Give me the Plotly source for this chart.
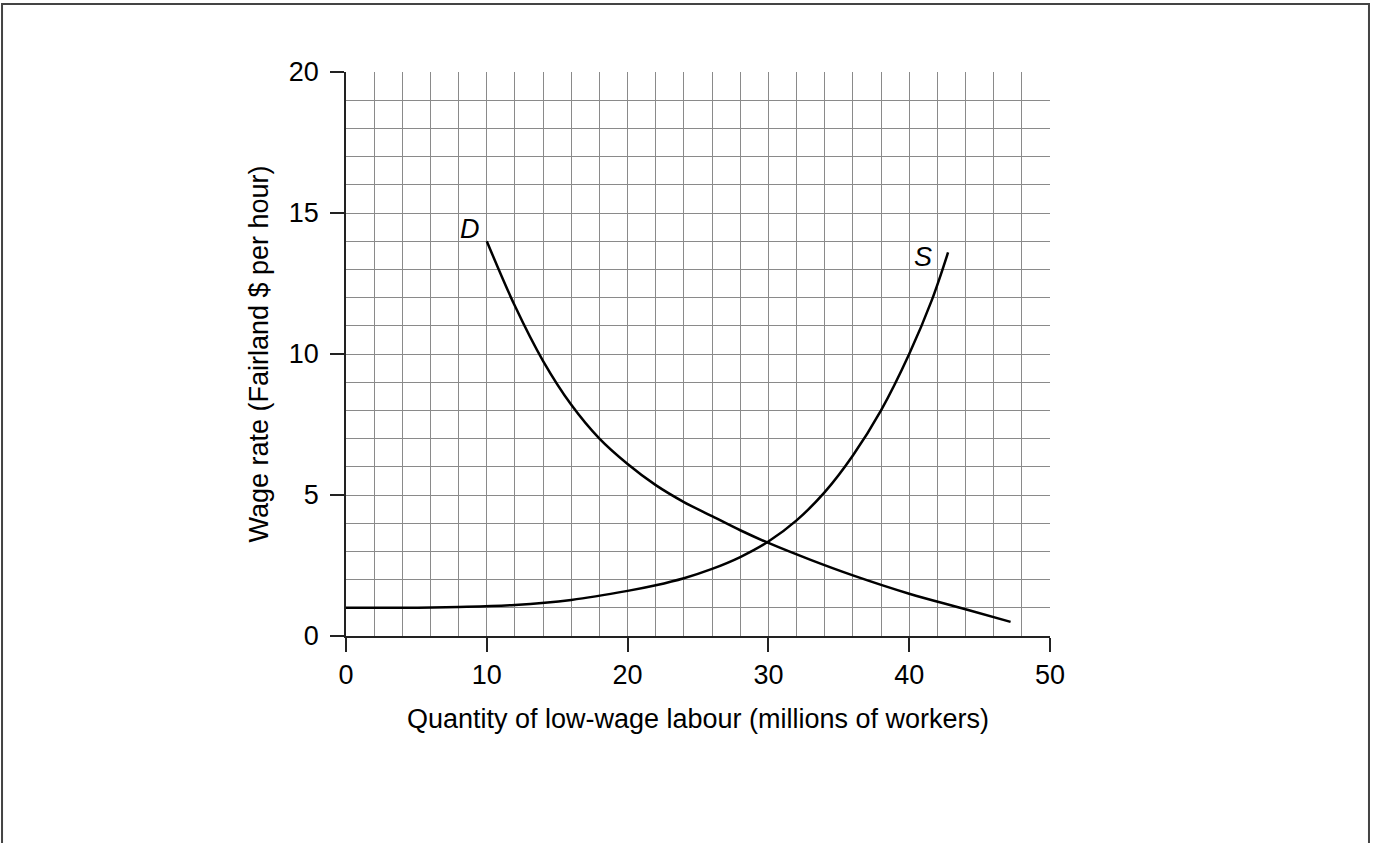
import plotly.graph_objects as go

# Demand curve D
d_x = [10, 12, 14, 16, 18, 20, 22, 24, 26, 28, 30, 33, 36, 40, 44, 47.2]
d_y = [14.0, 11.7, 9.75, 8.2, 7.0, 6.1, 5.35, 4.75, 4.25, 3.75, 3.3, 2.7, 2.15, 1.5, 0.95, 0.5]

# Supply curve S
s_x = [0, 4, 8, 12, 16, 20, 22, 24, 26, 28, 30, 32, 34, 36, 38, 40, 41.6, 42.76]
s_y = [1.0, 1.0, 1.03, 1.1, 1.28, 1.6, 1.8, 2.05, 2.38, 2.8, 3.35, 4.1, 5.1, 6.4, 8.0, 10.0, 11.9, 13.6]

x_ticks = [0, 10, 20, 30, 40, 50]
y_ticks = [0, 5, 10, 15, 20]

FONT = "Liberation Sans, Arial, sans-serif"
FS = 27

fig = go.Figure()
fig.add_trace(go.Scatter(x=d_x, y=d_y, mode="lines", line=dict(color="black", width=2.5, shape="spline", smoothing=1.0), showlegend=False, hoverinfo="skip"))
fig.add_trace(go.Scatter(x=s_x, y=s_y, mode="lines", line=dict(color="black", width=2.5, shape="spline", smoothing=1.0), showlegend=False, hoverinfo="skip"))

fig.add_annotation(x=8.8, y=14.45, text="<i>D</i>", showarrow=False, font=dict(size=FS, color="black", family=FONT))
fig.add_annotation(x=41.0, y=13.45, text="<i>S</i>", showarrow=False, font=dict(size=FS, color="black", family=FONT))

# outer frame
fig.add_shape(type="rect", xref="paper", yref="paper", x0=-0.4886, x1=1.4531, y0=-0.5, y1=1.1205,
              line=dict(color="#444", width=2), fillcolor="rgba(0,0,0,0)", layer="below")

axis_common = dict(
    showgrid=True, gridcolor="#8a8a8a", gridwidth=1,
    showline=True, linecolor="#222", linewidth=1.5,
    ticks="outside", ticklen=14, tickwidth=1.5, tickcolor="#222",
    tickfont=dict(size=FS, color="black", family=FONT),
    zeroline=False, mirror=False,
)

fig.update_xaxes(range=[0, 50], tickmode="array", tickvals=x_ticks, ticktext=[str(v) for v in x_ticks],
                 minor=dict(dtick=2, showgrid=True, gridcolor="#8a8a8a", gridwidth=1, ticks=""),
                 title=dict(text="Quantity of low-wage labour (millions of workers)", font=dict(size=FS, color="black", family=FONT), standoff=20),
                 **axis_common)
fig.update_yaxes(range=[0, 20], tickmode="array", tickvals=y_ticks, ticktext=[str(v) for v in y_ticks],
                 minor=dict(dtick=1, showgrid=True, gridcolor="#8a8a8a", gridwidth=1, ticks=""),
                 ticklabelstandoff=6,
                 title=dict(text="Wage rate (Fairland $ per hour)", font=dict(size=FS, color="black", family=FONT), standoff=12),
                 **axis_common)

fig.update_layout(
    width=1377, height=843,
    margin=dict(l=346, r=327, t=72, b=207, autoexpand=False),
    paper_bgcolor="white", plot_bgcolor="white",
    showlegend=False,
)

fig.write_html("out.html", config={"displayModeBar": False},
               post_script="document.body.style.margin='0';document.body.style.overflow='hidden';")
